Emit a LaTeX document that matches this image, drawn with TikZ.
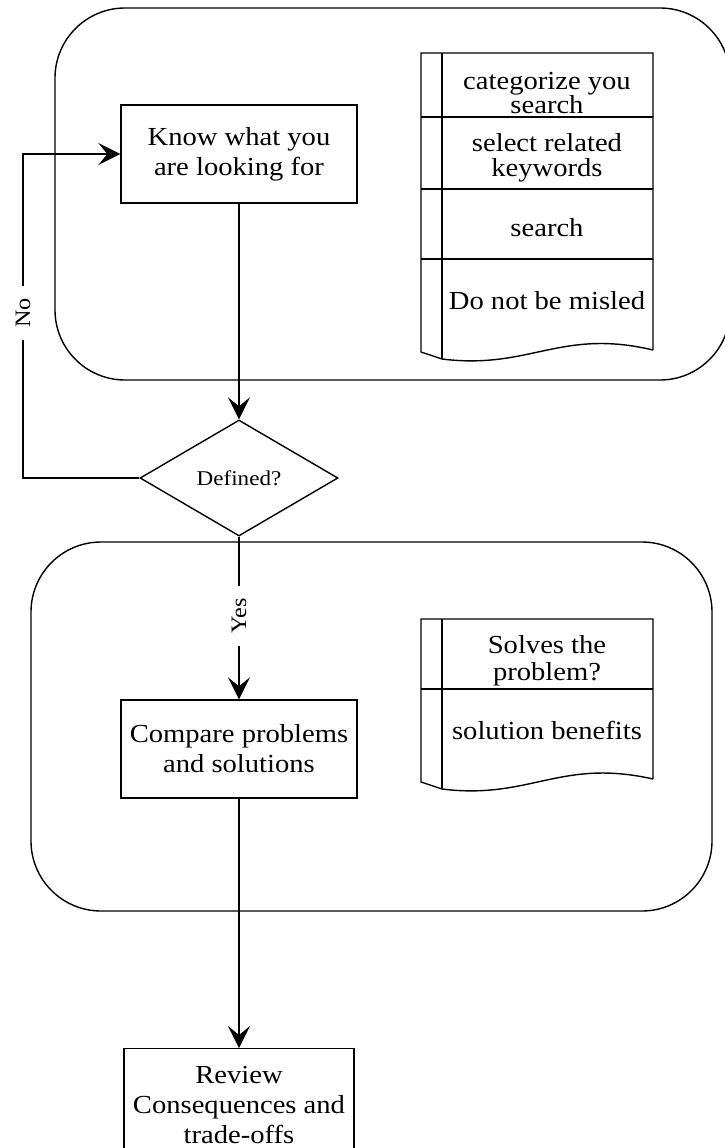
\documentclass[tikz,border=0pt]{standalone}
\usepackage{fontspec}
\setmainfont{Liberation Serif}[FakeStretch=1.1]
\usetikzlibrary{shapes.geometric,arrows.meta}
\begin{document}
\begin{tikzpicture}[x=1pt,y=-1pt,
  line width=1.4pt,
  box/.style={draw, rectangle, align=center, inner sep=0pt,
    font=\fontsize{26}{30}\selectfont},
  group/.style={draw, rectangle, rounded corners=70pt, inner sep=0pt},
  txt/.style={align=center, inner sep=0pt, font=\fontsize{26}{25}\selectfont},
  decision/.style={draw, diamond, inner sep=0pt, font=\fontsize{21}{21}\selectfont},
  lbl/.style={fill=white, rotate=90, inner xsep=12pt, inner ysep=2pt,
    font=\fontsize{22}{22}\selectfont},
  arr/.style={-{Stealth[length=22pt,width=22pt,inset=9pt]}}]
\clip (0,0) rectangle (725,1148);
\fill[white] (0,0) rectangle (725,1148);

% grouping frames
\node[group, minimum width=675pt, minimum height=372pt] (grpA) at (392.5,194) {};
\node[group, minimum width=681pt, minimum height=369pt] (grpB) at (371.5,726.5) {};

% process steps
\node[box, minimum width=236pt, minimum height=98pt] (know) at (239,154)
  {Know what you\\are looking for};
\node[decision, minimum width=198pt, minimum height=116pt] (dec) at (239,478) {Defined?};
\node[box, minimum width=236pt, minimum height=98pt] (cmp) at (239,749)
  {Compare problems\\and solutions};
\node[box, anchor=north, minimum width=230pt, minimum height=112pt] (rev) at (239,1048)
  {Review\\Consequences and\\trade-offs};

% first note list
\draw (653,350) -- (653,53) -- (421,53) -- (421,352) -- (442,359)
  .. controls (530,370) and (560,328) .. (653,350);
\draw (442,53) -- (442,359);
\draw (421,117) -- (653,117);
\draw (421,189) -- (653,189);
\draw (421,259) -- (653,259);
\node[txt, font=\fontsize{26}{23}\selectfont] (n1) at (547,93) {categorize you\\search};
\node[txt] (n2) at (547,158) {select related\\keywords};
\node[txt] (n3) at (547,228) {search};
\node[txt] (n4) at (547,301) {Do not be misled};

% second note list
\draw (653,779) -- (653,619) -- (421,619) -- (421,782) -- (442,789)
  .. controls (530,800) and (560,758) .. (653,779);
\draw (442,619) -- (442,789);
\draw (421,689) -- (653,689);
\node[txt, font=\fontsize{26}{27}\selectfont] (m1) at (547,661) {Solves the\\problem?};
\node[txt] (m2) at (547,730) {solution benefits};

% connectors
\draw[arr] (know.south) -- (dec.north);
\coordinate (nobend) at (23,478);
\draw[arr] (dec.west) -- (nobend) |- (know.west);
\node[lbl] (nolbl) at (23,313) {No};
\draw[arr] (dec.south) -- (cmp.north);
\node[lbl] (yeslbl) at (239,616) {Yes};
\draw[arr] (cmp.south) -- (rev.north);
\end{tikzpicture}
\end{document}
